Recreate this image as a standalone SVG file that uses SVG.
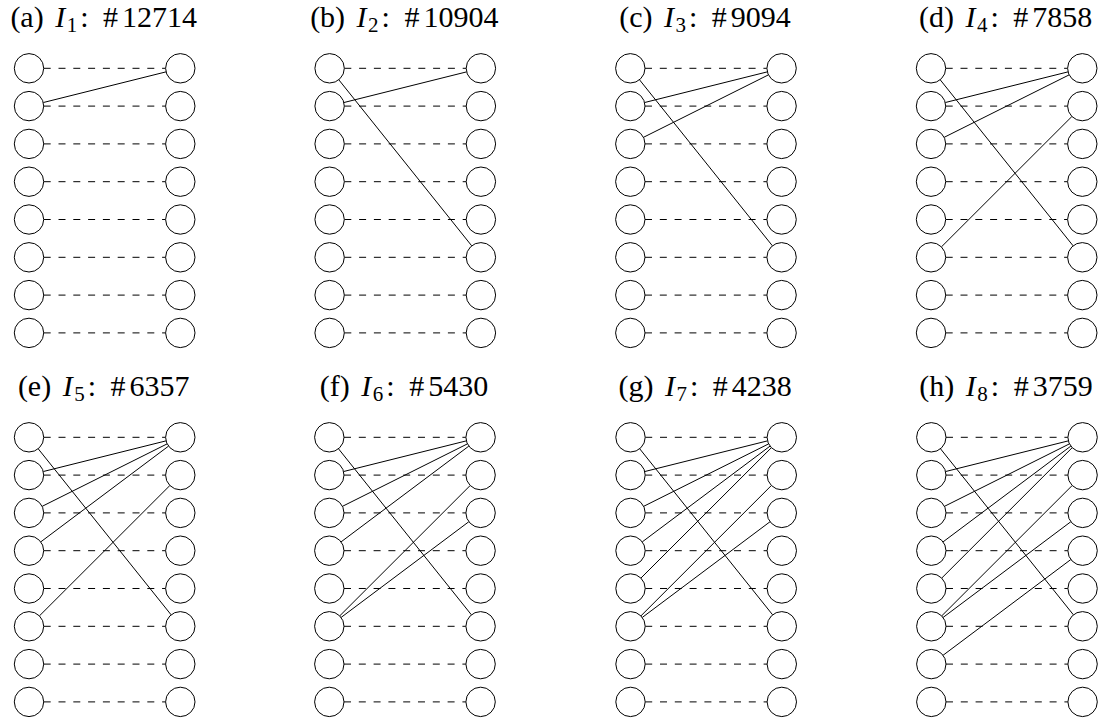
<svg xmlns="http://www.w3.org/2000/svg" xmlns:xlink="http://www.w3.org/1999/xlink" width="1102" height="722" viewBox="0 0 1102 722">
<style>
.n{fill:#fff;stroke:#000;stroke-width:1}
.d{stroke:#000;stroke-width:1;stroke-dasharray:7 7.8;fill:none}
.e{stroke:#000;stroke-width:1;fill:none}
.t{font-family:"Liberation Serif","Times New Roman",serif;font-size:30px;fill:#000;text-anchor:middle}
.it{font-style:italic}
.sb{font-size:21px}
</style>
<defs>
<g id="rungs">
<line class="d" x1="14.7" y1="0" x2="136.6" y2="0"/>
<line class="d" x1="14.7" y1="37.8" x2="136.6" y2="37.8"/>
<line class="d" x1="14.7" y1="75.6" x2="136.6" y2="75.6"/>
<line class="d" x1="14.7" y1="113.4" x2="136.6" y2="113.4"/>
<line class="d" x1="14.7" y1="151.2" x2="136.6" y2="151.2"/>
<line class="d" x1="14.7" y1="189" x2="136.6" y2="189"/>
<line class="d" x1="14.7" y1="226.8" x2="136.6" y2="226.8"/>
<line class="d" x1="14.7" y1="264.6" x2="136.6" y2="264.6"/>
</g>
</defs>
<rect width="1102" height="722" fill="#fff"/>

<!-- titles -->
<g id="titles">
<text class="t" x="103.7" y="27">(a) <tspan class="it" dx="4">I</tspan><tspan class="sb" dx="1.5" dy="4.5">1</tspan><tspan dx="3" dy="-4.5">:</tspan> <tspan dx="7">#</tspan><tspan dx="4">12714</tspan></text>
<text class="t" x="404.3" y="27">(b) <tspan class="it" dx="4">I</tspan><tspan class="sb" dx="1.5" dy="4.5">2</tspan><tspan dx="3" dy="-4.5">:</tspan> <tspan dx="7">#</tspan><tspan dx="4">10904</tspan></text>
<text class="t" x="705" y="27">(c) <tspan class="it" dx="4">I</tspan><tspan class="sb" dx="1.5" dy="4.5">3</tspan><tspan dx="3" dy="-4.5">:</tspan> <tspan dx="7">#</tspan><tspan dx="4">9094</tspan></text>
<text class="t" x="1005.7" y="27">(d) <tspan class="it" dx="4">I</tspan><tspan class="sb" dx="1.5" dy="4.5">4</tspan><tspan dx="3" dy="-4.5">:</tspan> <tspan dx="7">#</tspan><tspan dx="4">7858</tspan></text>
<text class="t" x="103.7" y="396">(e) <tspan class="it" dx="4">I</tspan><tspan class="sb" dx="1.5" dy="4.5">5</tspan><tspan dx="3" dy="-4.5">:</tspan> <tspan dx="7">#</tspan><tspan dx="4">6357</tspan></text>
<text class="t" x="404" y="396">(f) <tspan class="it" dx="4">I</tspan><tspan class="sb" dx="1.5" dy="4.5">6</tspan><tspan dx="3" dy="-4.5">:</tspan> <tspan dx="7">#</tspan><tspan dx="4">5430</tspan></text>
<text class="t" x="705.2" y="396">(g) <tspan class="it" dx="4">I</tspan><tspan class="sb" dx="1.5" dy="4.5">7</tspan><tspan dx="3" dy="-4.5">:</tspan> <tspan dx="7">#</tspan><tspan dx="4">4238</tspan></text>
<text class="t" x="1006" y="396">(h) <tspan class="it" dx="4">I</tspan><tspan class="sb" dx="1.5" dy="4.5">8</tspan><tspan dx="3" dy="-4.5">:</tspan> <tspan dx="7">#</tspan><tspan dx="4">3759</tspan></text>
</g>

<!-- panel a -->
<g id="panel-a" transform="translate(29,68.3)">
<g id="a-connectors">
<use xlink:href="#rungs" href="#rungs"/>
<line class="e" x1="14.26" y1="34.24" x2="137.04" y2="3.56"/>
</g>
<g id="a-L1"><circle class="n" cx="0" cy="0" r="14.7"/></g>
<g id="a-L2"><circle class="n" cx="0" cy="37.8" r="14.7"/></g>
<g id="a-L3"><circle class="n" cx="0" cy="75.6" r="14.7"/></g>
<g id="a-L4"><circle class="n" cx="0" cy="113.4" r="14.7"/></g>
<g id="a-L5"><circle class="n" cx="0" cy="151.2" r="14.7"/></g>
<g id="a-L6"><circle class="n" cx="0" cy="189" r="14.7"/></g>
<g id="a-L7"><circle class="n" cx="0" cy="226.8" r="14.7"/></g>
<g id="a-L8"><circle class="n" cx="0" cy="264.6" r="14.7"/></g>
<g id="a-R1"><circle class="n" cx="151.3" cy="0" r="14.7"/></g>
<g id="a-R2"><circle class="n" cx="151.3" cy="37.8" r="14.7"/></g>
<g id="a-R3"><circle class="n" cx="151.3" cy="75.6" r="14.7"/></g>
<g id="a-R4"><circle class="n" cx="151.3" cy="113.4" r="14.7"/></g>
<g id="a-R5"><circle class="n" cx="151.3" cy="151.2" r="14.7"/></g>
<g id="a-R6"><circle class="n" cx="151.3" cy="189" r="14.7"/></g>
<g id="a-R7"><circle class="n" cx="151.3" cy="226.8" r="14.7"/></g>
<g id="a-R8"><circle class="n" cx="151.3" cy="264.6" r="14.7"/></g>
</g>

<!-- panel b -->
<g id="panel-b" transform="translate(329.6,68.3)">
<g id="b-connectors">
<use xlink:href="#rungs" href="#rungs"/>
<line class="e" x1="14.26" y1="34.24" x2="137.04" y2="3.56"/>
<line class="e" x1="9.19" y1="11.48" x2="142.11" y2="177.52"/>
</g>
<g id="b-L1"><circle class="n" cx="0" cy="0" r="14.7"/></g>
<g id="b-L2"><circle class="n" cx="0" cy="37.8" r="14.7"/></g>
<g id="b-L3"><circle class="n" cx="0" cy="75.6" r="14.7"/></g>
<g id="b-L4"><circle class="n" cx="0" cy="113.4" r="14.7"/></g>
<g id="b-L5"><circle class="n" cx="0" cy="151.2" r="14.7"/></g>
<g id="b-L6"><circle class="n" cx="0" cy="189" r="14.7"/></g>
<g id="b-L7"><circle class="n" cx="0" cy="226.8" r="14.7"/></g>
<g id="b-L8"><circle class="n" cx="0" cy="264.6" r="14.7"/></g>
<g id="b-R1"><circle class="n" cx="151.3" cy="0" r="14.7"/></g>
<g id="b-R2"><circle class="n" cx="151.3" cy="37.8" r="14.7"/></g>
<g id="b-R3"><circle class="n" cx="151.3" cy="75.6" r="14.7"/></g>
<g id="b-R4"><circle class="n" cx="151.3" cy="113.4" r="14.7"/></g>
<g id="b-R5"><circle class="n" cx="151.3" cy="151.2" r="14.7"/></g>
<g id="b-R6"><circle class="n" cx="151.3" cy="189" r="14.7"/></g>
<g id="b-R7"><circle class="n" cx="151.3" cy="226.8" r="14.7"/></g>
<g id="b-R8"><circle class="n" cx="151.3" cy="264.6" r="14.7"/></g>
</g>

<!-- panel c -->
<g id="panel-c" transform="translate(630.3,68.3)">
<g id="c-connectors">
<use xlink:href="#rungs" href="#rungs"/>
<line class="e" x1="14.26" y1="34.24" x2="137.04" y2="3.56"/>
<line class="e" x1="13.15" y1="69.03" x2="138.15" y2="6.57"/>
<line class="e" x1="9.19" y1="11.48" x2="142.11" y2="177.52"/>
</g>
<g id="c-L1"><circle class="n" cx="0" cy="0" r="14.7"/></g>
<g id="c-L2"><circle class="n" cx="0" cy="37.8" r="14.7"/></g>
<g id="c-L3"><circle class="n" cx="0" cy="75.6" r="14.7"/></g>
<g id="c-L4"><circle class="n" cx="0" cy="113.4" r="14.7"/></g>
<g id="c-L5"><circle class="n" cx="0" cy="151.2" r="14.7"/></g>
<g id="c-L6"><circle class="n" cx="0" cy="189" r="14.7"/></g>
<g id="c-L7"><circle class="n" cx="0" cy="226.8" r="14.7"/></g>
<g id="c-L8"><circle class="n" cx="0" cy="264.6" r="14.7"/></g>
<g id="c-R1"><circle class="n" cx="151.3" cy="0" r="14.7"/></g>
<g id="c-R2"><circle class="n" cx="151.3" cy="37.8" r="14.7"/></g>
<g id="c-R3"><circle class="n" cx="151.3" cy="75.6" r="14.7"/></g>
<g id="c-R4"><circle class="n" cx="151.3" cy="113.4" r="14.7"/></g>
<g id="c-R5"><circle class="n" cx="151.3" cy="151.2" r="14.7"/></g>
<g id="c-R6"><circle class="n" cx="151.3" cy="189" r="14.7"/></g>
<g id="c-R7"><circle class="n" cx="151.3" cy="226.8" r="14.7"/></g>
<g id="c-R8"><circle class="n" cx="151.3" cy="264.6" r="14.7"/></g>
</g>

<!-- panel d -->
<g id="panel-d" transform="translate(931,68.3)">
<g id="d-connectors">
<use xlink:href="#rungs" href="#rungs"/>
<line class="e" x1="14.26" y1="34.24" x2="137.04" y2="3.56"/>
<line class="e" x1="13.15" y1="69.03" x2="138.15" y2="6.57"/>
<line class="e" x1="9.19" y1="11.48" x2="142.11" y2="177.52"/>
<line class="e" x1="10.40" y1="178.61" x2="140.90" y2="48.19"/>
</g>
<g id="d-L1"><circle class="n" cx="0" cy="0" r="14.7"/></g>
<g id="d-L2"><circle class="n" cx="0" cy="37.8" r="14.7"/></g>
<g id="d-L3"><circle class="n" cx="0" cy="75.6" r="14.7"/></g>
<g id="d-L4"><circle class="n" cx="0" cy="113.4" r="14.7"/></g>
<g id="d-L5"><circle class="n" cx="0" cy="151.2" r="14.7"/></g>
<g id="d-L6"><circle class="n" cx="0" cy="189" r="14.7"/></g>
<g id="d-L7"><circle class="n" cx="0" cy="226.8" r="14.7"/></g>
<g id="d-L8"><circle class="n" cx="0" cy="264.6" r="14.7"/></g>
<g id="d-R1"><circle class="n" cx="151.3" cy="0" r="14.7"/></g>
<g id="d-R2"><circle class="n" cx="151.3" cy="37.8" r="14.7"/></g>
<g id="d-R3"><circle class="n" cx="151.3" cy="75.6" r="14.7"/></g>
<g id="d-R4"><circle class="n" cx="151.3" cy="113.4" r="14.7"/></g>
<g id="d-R5"><circle class="n" cx="151.3" cy="151.2" r="14.7"/></g>
<g id="d-R6"><circle class="n" cx="151.3" cy="189" r="14.7"/></g>
<g id="d-R7"><circle class="n" cx="151.3" cy="226.8" r="14.7"/></g>
<g id="d-R8"><circle class="n" cx="151.3" cy="264.6" r="14.7"/></g>
</g>

<!-- panel e -->
<g id="panel-e" transform="translate(29,437.3)">
<g id="e-connectors">
<use xlink:href="#rungs" href="#rungs"/>
<line class="e" x1="14.26" y1="34.24" x2="137.04" y2="3.56"/>
<line class="e" x1="13.15" y1="69.03" x2="138.15" y2="6.57"/>
<line class="e" x1="11.76" y1="104.58" x2="139.54" y2="8.82"/>
<line class="e" x1="9.19" y1="11.48" x2="142.11" y2="177.52"/>
<line class="e" x1="10.40" y1="178.61" x2="140.90" y2="48.19"/>
</g>
<g id="e-L1"><circle class="n" cx="0" cy="0" r="14.7"/></g>
<g id="e-L2"><circle class="n" cx="0" cy="37.8" r="14.7"/></g>
<g id="e-L3"><circle class="n" cx="0" cy="75.6" r="14.7"/></g>
<g id="e-L4"><circle class="n" cx="0" cy="113.4" r="14.7"/></g>
<g id="e-L5"><circle class="n" cx="0" cy="151.2" r="14.7"/></g>
<g id="e-L6"><circle class="n" cx="0" cy="189" r="14.7"/></g>
<g id="e-L7"><circle class="n" cx="0" cy="226.8" r="14.7"/></g>
<g id="e-L8"><circle class="n" cx="0" cy="264.6" r="14.7"/></g>
<g id="e-R1"><circle class="n" cx="151.3" cy="0" r="14.7"/></g>
<g id="e-R2"><circle class="n" cx="151.3" cy="37.8" r="14.7"/></g>
<g id="e-R3"><circle class="n" cx="151.3" cy="75.6" r="14.7"/></g>
<g id="e-R4"><circle class="n" cx="151.3" cy="113.4" r="14.7"/></g>
<g id="e-R5"><circle class="n" cx="151.3" cy="151.2" r="14.7"/></g>
<g id="e-R6"><circle class="n" cx="151.3" cy="189" r="14.7"/></g>
<g id="e-R7"><circle class="n" cx="151.3" cy="226.8" r="14.7"/></g>
<g id="e-R8"><circle class="n" cx="151.3" cy="264.6" r="14.7"/></g>
</g>

<!-- panel f -->
<g id="panel-f" transform="translate(329.3,437.3)">
<g id="f-connectors">
<use xlink:href="#rungs" href="#rungs"/>
<line class="e" x1="14.26" y1="34.24" x2="137.04" y2="3.56"/>
<line class="e" x1="13.15" y1="69.03" x2="138.15" y2="6.57"/>
<line class="e" x1="11.76" y1="104.58" x2="139.54" y2="8.82"/>
<line class="e" x1="9.19" y1="11.48" x2="142.11" y2="177.52"/>
<line class="e" x1="10.40" y1="178.61" x2="140.90" y2="48.19"/>
<line class="e" x1="11.76" y1="180.18" x2="139.54" y2="84.42"/>
</g>
<g id="f-L1"><circle class="n" cx="0" cy="0" r="14.7"/></g>
<g id="f-L2"><circle class="n" cx="0" cy="37.8" r="14.7"/></g>
<g id="f-L3"><circle class="n" cx="0" cy="75.6" r="14.7"/></g>
<g id="f-L4"><circle class="n" cx="0" cy="113.4" r="14.7"/></g>
<g id="f-L5"><circle class="n" cx="0" cy="151.2" r="14.7"/></g>
<g id="f-L6"><circle class="n" cx="0" cy="189" r="14.7"/></g>
<g id="f-L7"><circle class="n" cx="0" cy="226.8" r="14.7"/></g>
<g id="f-L8"><circle class="n" cx="0" cy="264.6" r="14.7"/></g>
<g id="f-R1"><circle class="n" cx="151.3" cy="0" r="14.7"/></g>
<g id="f-R2"><circle class="n" cx="151.3" cy="37.8" r="14.7"/></g>
<g id="f-R3"><circle class="n" cx="151.3" cy="75.6" r="14.7"/></g>
<g id="f-R4"><circle class="n" cx="151.3" cy="113.4" r="14.7"/></g>
<g id="f-R5"><circle class="n" cx="151.3" cy="151.2" r="14.7"/></g>
<g id="f-R6"><circle class="n" cx="151.3" cy="189" r="14.7"/></g>
<g id="f-R7"><circle class="n" cx="151.3" cy="226.8" r="14.7"/></g>
<g id="f-R8"><circle class="n" cx="151.3" cy="264.6" r="14.7"/></g>
</g>

<!-- panel g -->
<g id="panel-g" transform="translate(630.5,437.3)">
<g id="g-connectors">
<use xlink:href="#rungs" href="#rungs"/>
<line class="e" x1="14.26" y1="34.24" x2="137.04" y2="3.56"/>
<line class="e" x1="13.15" y1="69.03" x2="138.15" y2="6.57"/>
<line class="e" x1="11.76" y1="104.58" x2="139.54" y2="8.82"/>
<line class="e" x1="10.40" y1="140.81" x2="140.90" y2="10.39"/>
<line class="e" x1="9.19" y1="11.48" x2="142.11" y2="177.52"/>
<line class="e" x1="10.40" y1="178.61" x2="140.90" y2="48.19"/>
<line class="e" x1="11.76" y1="180.18" x2="139.54" y2="84.42"/>
</g>
<g id="g-L1"><circle class="n" cx="0" cy="0" r="14.7"/></g>
<g id="g-L2"><circle class="n" cx="0" cy="37.8" r="14.7"/></g>
<g id="g-L3"><circle class="n" cx="0" cy="75.6" r="14.7"/></g>
<g id="g-L4"><circle class="n" cx="0" cy="113.4" r="14.7"/></g>
<g id="g-L5"><circle class="n" cx="0" cy="151.2" r="14.7"/></g>
<g id="g-L6"><circle class="n" cx="0" cy="189" r="14.7"/></g>
<g id="g-L7"><circle class="n" cx="0" cy="226.8" r="14.7"/></g>
<g id="g-L8"><circle class="n" cx="0" cy="264.6" r="14.7"/></g>
<g id="g-R1"><circle class="n" cx="151.3" cy="0" r="14.7"/></g>
<g id="g-R2"><circle class="n" cx="151.3" cy="37.8" r="14.7"/></g>
<g id="g-R3"><circle class="n" cx="151.3" cy="75.6" r="14.7"/></g>
<g id="g-R4"><circle class="n" cx="151.3" cy="113.4" r="14.7"/></g>
<g id="g-R5"><circle class="n" cx="151.3" cy="151.2" r="14.7"/></g>
<g id="g-R6"><circle class="n" cx="151.3" cy="189" r="14.7"/></g>
<g id="g-R7"><circle class="n" cx="151.3" cy="226.8" r="14.7"/></g>
<g id="g-R8"><circle class="n" cx="151.3" cy="264.6" r="14.7"/></g>
</g>

<!-- panel h -->
<g id="panel-h" transform="translate(931.3,437.3)">
<g id="h-connectors">
<use xlink:href="#rungs" href="#rungs"/>
<line class="e" x1="14.26" y1="34.24" x2="137.04" y2="3.56"/>
<line class="e" x1="13.15" y1="69.03" x2="138.15" y2="6.57"/>
<line class="e" x1="11.76" y1="104.58" x2="139.54" y2="8.82"/>
<line class="e" x1="10.40" y1="140.81" x2="140.90" y2="10.39"/>
<line class="e" x1="9.19" y1="11.48" x2="142.11" y2="177.52"/>
<line class="e" x1="10.40" y1="178.61" x2="140.90" y2="48.19"/>
<line class="e" x1="11.76" y1="180.18" x2="139.54" y2="84.42"/>
<line class="e" x1="11.76" y1="217.98" x2="139.54" y2="122.22"/>
</g>
<g id="h-L1"><circle class="n" cx="0" cy="0" r="14.7"/></g>
<g id="h-L2"><circle class="n" cx="0" cy="37.8" r="14.7"/></g>
<g id="h-L3"><circle class="n" cx="0" cy="75.6" r="14.7"/></g>
<g id="h-L4"><circle class="n" cx="0" cy="113.4" r="14.7"/></g>
<g id="h-L5"><circle class="n" cx="0" cy="151.2" r="14.7"/></g>
<g id="h-L6"><circle class="n" cx="0" cy="189" r="14.7"/></g>
<g id="h-L7"><circle class="n" cx="0" cy="226.8" r="14.7"/></g>
<g id="h-L8"><circle class="n" cx="0" cy="264.6" r="14.7"/></g>
<g id="h-R1"><circle class="n" cx="151.3" cy="0" r="14.7"/></g>
<g id="h-R2"><circle class="n" cx="151.3" cy="37.8" r="14.7"/></g>
<g id="h-R3"><circle class="n" cx="151.3" cy="75.6" r="14.7"/></g>
<g id="h-R4"><circle class="n" cx="151.3" cy="113.4" r="14.7"/></g>
<g id="h-R5"><circle class="n" cx="151.3" cy="151.2" r="14.7"/></g>
<g id="h-R6"><circle class="n" cx="151.3" cy="189" r="14.7"/></g>
<g id="h-R7"><circle class="n" cx="151.3" cy="226.8" r="14.7"/></g>
<g id="h-R8"><circle class="n" cx="151.3" cy="264.6" r="14.7"/></g>
</g>
</svg>
